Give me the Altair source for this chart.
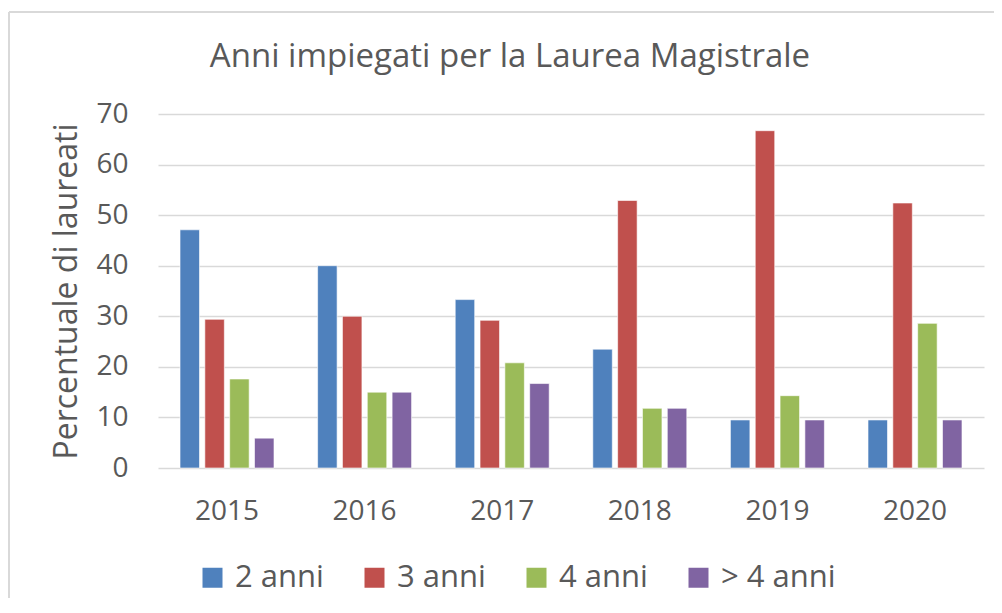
import altair as alt
import pandas as pd

# ---- data ----
years = ["2015", "2016", "2017", "2018", "2019", "2020"]
series = ["2 anni", "3 anni", "4 anni", "> 4 anni"]
due_anni = [47.1, 40.0, 33.3, 23.5, 9.5, 9.5]
tre_anni = [29.4, 30.0, 29.2, 52.9, 66.7, 52.4]
quattro_anni = [17.6, 15.0, 20.8, 11.8, 14.3, 28.6]
oltre_quattro = [5.9, 15.0, 16.7, 11.8, 9.5, 9.5]
colors = ["#4F81BD", "#C0504D", "#9BBB59", "#8064A2"]
y_ticks = [0, 10, 20, 30, 40, 50, 60, 70]

rows = []
for name, vals in zip(series, [due_anni, tre_anni, quattro_anni, oltre_quattro]):
    for yr, v in zip(years, vals):
        rows.append({"anno": yr, "serie": name, "valore": v})
df = pd.DataFrame(rows)

W, H = 826, 354
PAD = {"left": 150, "top": 106, "right": 10, "bottom": 130}
FONT = "Open Sans"
GREY = "#595959"

bars = alt.Chart(df).mark_bar(stroke="white", strokeWidth=1, strokeOpacity=0.6).encode(
    x=alt.X("anno:N", sort=years,
            scale=alt.Scale(paddingInner=0.317, paddingOuter=0.16),
            axis=alt.Axis(title=None, labelAngle=0, domain=False, ticks=False,
                          labelPadding=29, labelFontSize=28, labelColor=GREY,
                          labelFont=FONT)),
    xOffset=alt.XOffset("serie:N", sort=series, scale=alt.Scale(paddingInner=0.215)),
    y=alt.Y("valore:Q", scale=alt.Scale(domain=[0, 70], nice=False),
            axis=alt.Axis(values=y_ticks, grid=True, gridColor="#d9d9d9", gridWidth=1.5,
                          domain=False, ticks=False, labelPadding=30, labelFontSize=28,
                          labelColor=GREY, labelFont=FONT,
                          title="Percentuale di laureati", titleFontSize=32,
                          titleFont=FONT, titleFontWeight="normal", titleColor=GREY,
                          titlePadding=12)),
    color=alt.Color("serie:N", sort=series,
                    scale=alt.Scale(domain=series, range=colors),
                    legend=alt.Legend(title=None, orient="none", legendX=39, legendY=448,
                                      direction="horizontal", symbolType="square",
                                      symbolSize=400, symbolStrokeWidth=0,
                                      labelFontSize=31, labelColor=GREY, labelFont=FONT,
                                      columnPadding=35, labelOffset=7, padding=0)),
)

frame_df = pd.DataFrame({"k": [0]})
top_border = alt.Chart(frame_df).mark_rule(color="#d9d9d9", strokeWidth=2).encode(
    x=alt.value(-149), x2=alt.value(W + PAD["right"]), y=alt.value(-102))
left_border = alt.Chart(frame_df).mark_rule(color="#d9d9d9", strokeWidth=2).encode(
    x=alt.value(-149), y=alt.value(-102), y2=alt.value(H + PAD["bottom"]))

chart = alt.layer(top_border, left_border, bars).properties(
    width=W, height=H,
    autosize=alt.AutoSizeParams(type="none"),
    padding=PAD,
    title=alt.TitleParams("Anni  impiegati per la Laurea Magistrale", font=FONT,
                          fontSize=33, fontWeight="normal", color=GREY,
                          anchor="middle", frame="group", dx=-61, dy=114, offset=25,
                          baseline="alphabetic"),
).configure_view(stroke=None)

chart.save("out.html", embed_options={"renderer": "svg", "actions": False})
